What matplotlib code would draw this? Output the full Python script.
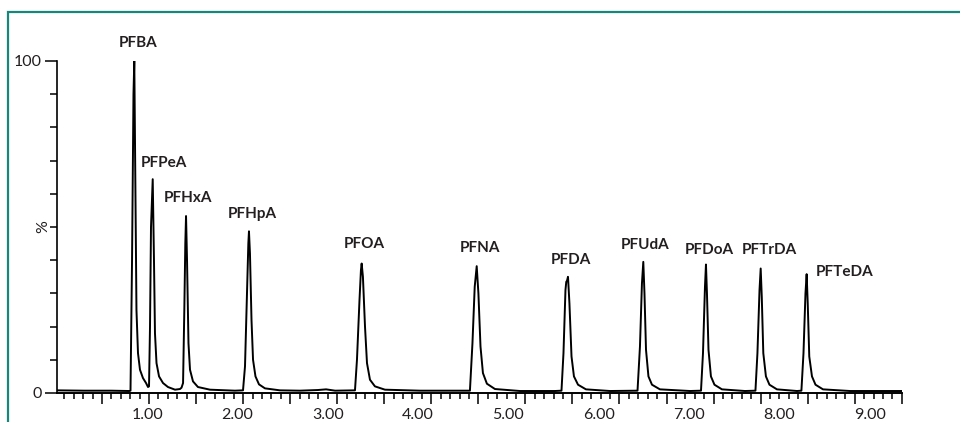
import numpy as np
import matplotlib
matplotlib.use("Agg")
import matplotlib.pyplot as plt
from matplotlib.ticker import MultipleLocator, FixedLocator, NullFormatter
from matplotlib.patches import Rectangle

# Kromatogram PFAS, verdier lest av bildet (tid i min, intensitet i %)
peak_names = ["PFBA", "PFPeA", "PFHxA", "PFHpA", "PFOA", "PFNA",
              "PFDA", "PFUdA", "PFDoA", "PFTrDA", "PFTeDA"]
peak_rt = [0.856, 1.060, 1.429, 2.126, 3.374, 4.648, 5.659, 6.493, 7.187, 7.793, 8.302]
peak_height = [100, 64.4, 53.3, 48.7, 39.0, 38.2, 35.0, 39.5, 38.7, 37.5, 35.8]

# selve sporet (tid, %)
trace_t = [0.00, 0.30, 0.60, 0.80,
           # PFBA
           0.814, 0.831, 0.847, 0.856, 0.869, 0.880, 0.897, 0.919, 0.952, 0.986, 1.008,
           # PFPeA
           1.019, 1.030, 1.041, 1.050, 1.060, 1.074, 1.085, 1.102, 1.130, 1.174, 1.229,
           1.307, 1.362, 1.379,
           # PFHxA
           1.396, 1.410, 1.421, 1.429, 1.440, 1.456, 1.473, 1.506, 1.561, 1.694, 1.971,
           # PFHpA
           2.060, 2.082, 2.104, 2.119, 2.126, 2.137, 2.154, 2.171, 2.198, 2.237, 2.303, 2.469,
           2.690, 2.890, 2.980, 3.080,
           # PFOA
           3.300, 3.322, 3.350, 3.366, 3.374, 3.388, 3.411, 3.433, 3.466, 3.521, 3.632, 4.020,
           # PFNA
           4.573, 4.601, 4.626, 4.648, 4.667, 4.690, 4.717, 4.761, 4.850, 5.127, 5.515,
           # PFDA
           5.587, 5.609, 5.631, 5.640, 5.648, 5.659, 5.675, 5.698, 5.725, 5.770, 5.858, 6.124,
           # PFUdA
           6.429, 6.456, 6.478, 6.493, 6.506, 6.523, 6.550, 6.589, 6.677, 7.010,
           # PFDoA
           7.132, 7.154, 7.176, 7.187, 7.198, 7.215, 7.242, 7.281, 7.364, 7.619,
           # PFTrDA
           7.735, 7.757, 7.780, 7.793, 7.805, 7.822, 7.851, 7.890, 7.973, 8.195,
           # PFTeDA
           8.244, 8.267, 8.289, 8.302, 8.314, 8.331, 8.361, 8.400, 8.483, 8.782, 9.358]
trace_y = [0.8, 0.7, 0.7, 0.6,
           0.7, 40, 90, 100, 60, 25, 12, 7, 4.5, 3, 1.8,
           2, 20, 50, 57, 64.4, 40, 18, 9, 5, 3, 1.8,
           1.0, 1.2, 1.6,
           3, 25, 45, 53.3, 40, 15, 7, 3.5, 1.8, 1.0, 0.7,
           0.8, 8, 30, 45, 48.7, 42, 22, 10, 5, 2.6, 1.4, 0.8,
           0.7, 0.9, 1.1, 0.7,
           0.8, 10, 28, 37, 39.0, 35, 20, 9, 4, 2, 1.0, 0.7,
           0.7, 15, 32, 38.2, 30, 14, 6, 2.8, 1.2, 0.6, 0.6,
           0.7, 12, 31, 33.5, 33.8, 35.0, 27, 11, 5, 2.5, 1.1, 0.6,
           0.7, 14, 33, 39.5, 30, 13, 5, 2.5, 1.1, 0.6,
           0.7, 12, 32, 38.7, 30, 13, 5, 2.5, 1.1, 0.6,
           0.7, 12, 31, 37.5, 29, 12, 5, 2.5, 1.1, 0.6,
           0.7, 12, 30, 35.8, 27, 11, 5, 2.5, 1.1, 0.6, 0.6]

x_labels = ["1.00", "2.00", "3.00", "4.00", "5.00", "6.00", "7.00", "8.00", "9.00"]
x_label_pos = [1, 2, 3, 4, 5, 6, 7, 8, 9]

# etikettforskyvning i piksler (dx, dy) fra toppen
label_offset = [(4, 18), (11, 16), (2, 18), (3, 17), (3, 20), (3, 18),
                (3, 17), (2, 17), (3, 15), (9, 19), (38, 2)]

plt.rcParams['font.family'] = ['Lato', 'DejaVu Sans']
txt_farge = '#231f20'

fig = plt.figure(figsize=(9.6, 4.22), dpi=100)
ax = fig.add_axes([57/960, 29/422, 845/960, 332/422])

ax.plot(trace_t, trace_y, color='black', lw=1.4, solid_joinstyle='round')

ax.set_xlim(0, 9.358)
ax.set_ylim(0, 100)

ax.spines['top'].set_visible(False)
ax.spines['right'].set_visible(False)
ax.spines['left'].set_linewidth(1.2)
ax.spines['bottom'].set_linewidth(1.2)

# y-akse
ax.yaxis.set_major_locator(FixedLocator([0, 100]))
ax.yaxis.set_minor_locator(MultipleLocator(10))
ax.set_yticklabels(['0', '100'])
ax.tick_params(axis='y', which='major', length=9, width=1.1, pad=2,
               labelsize=11.5, labelcolor=txt_farge)
ax.tick_params(axis='y', which='minor', length=5, width=1.1)
ax.text(-14/845, 0.5, '%', transform=ax.transAxes, rotation=90,
        ha='center', va='center', fontsize=11.5, color=txt_farge)

# x-akse: tall uten streker, strekene på egen skala (som i originalen)
ax.xaxis.set_major_locator(FixedLocator(x_label_pos))
ax.set_xticklabels(x_labels)
ax.xaxis.set_minor_locator(FixedLocator([]))
ax.tick_params(axis='x', length=0, pad=11, labelsize=11.5, labelcolor=txt_farge)

sec = ax.secondary_xaxis('bottom', functions=(lambda t: 0.0223 + 0.9596 * t,
                                               lambda s: (s - 0.0223) / 0.9596))
sec.xaxis.set_major_locator(MultipleLocator(0.5))
sec.xaxis.set_minor_locator(MultipleLocator(0.1))
sec.xaxis.set_major_formatter(NullFormatter())
sec.tick_params(which='major', length=8, width=1.1)
sec.tick_params(which='minor', length=4, width=1.1)
sec.spines['bottom'].set_linewidth(1.2)

# navn på toppene
for i in range(len(peak_names)):
    ax.annotate(peak_names[i], (peak_rt[i], peak_height[i]),
                xytext=label_offset[i], textcoords='offset pixels',
                ha='center', va='center', fontsize=11, fontweight='bold',
                color=txt_farge, annotation_clip=False)

# grønn ramme (bare topp og venstre synlig)
fig.patches.append(Rectangle((8/960, -0.5), 2, 0.5 + 1 - 11.5/422,
                             transform=fig.transFigure, fill=False,
                             edgecolor='#16877a', lw=1.6))

fig.savefig('out.png', dpi=100)
